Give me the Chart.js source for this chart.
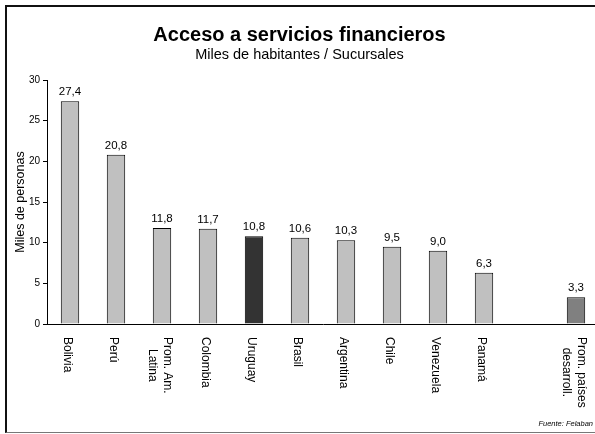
<!DOCTYPE html>
<html>
<head>
<meta charset="utf-8">
<script src="https://cdn.jsdelivr.net/npm/chart.js@4/dist/chart.umd.min.js"></script>
<style>
    html, body { margin: 0; padding: 0; background: #fff; overflow: hidden; }
    #frame {
        position: absolute; left: 5px; top: 5px; width: 700px; height: 425px;
        border-left: 2px solid #111; border-top: 2px solid #111; border-bottom: 1px solid #777;
    }
    #barChart { position: absolute; left: 0; top: 0; }
</style>
</head>
<body>
<div id="frame"></div>
<canvas id="barChart" width="612" height="434"></canvas>
<script>
// Data
const categories = ['Bolivia', 'Perú', ['Prom. Am.', 'Latina'], 'Colombia', 'Uruguay', 'Brasil',
    'Argentina', 'Chile', 'Venezuela', 'Panamá', '', ['Prom. países', 'desarroll.']];
const values = [27.4, 20.8, 11.8, 11.7, 10.8, 10.6, 10.3, 9.5, 9.0, 6.3, null, 3.3];
const yTicks = [0, 5, 10, 15, 20, 25, 30];

const FONT = "'Liberation Sans', Arial, sans-serif";
const highlight = { 'Uruguay': '#333333', 'Prom. países': '#808080' };

function barColor(label) {
    var key = Array.isArray(label) ? label[0] : label;
    return highlight[key] || '#c0c0c0';
}

// Value labels above bars, with comma decimals
const valueLabels = {
    id: 'valueLabels',
    afterDatasetsDraw: function(chart) {
        var ctx = chart.ctx;
        var meta = chart.getDatasetMeta(0);
        ctx.save();
        ctx.font = '11.5px ' + FONT;
        ctx.fillStyle = '#000';
        ctx.textAlign = 'center';
        ctx.textBaseline = 'alphabetic';
        meta.data.forEach(function(bar, i) {
            var v = values[i];
            if (v === null) return;
            ctx.fillText(v.toFixed(1).replace('.', ','), bar.x, bar.y - 6);
        });
        ctx.restore();
    }
};

// Category labels, rotated to read top to bottom
const xLabels = {
    id: 'xLabels',
    afterDraw: function(chart) {
        var ctx = chart.ctx;
        var xs = chart.scales.x;
        var lh = 15;
        ctx.save();
        ctx.font = '12px ' + FONT;
        ctx.fillStyle = '#000';
        ctx.textAlign = 'center';
        ctx.textBaseline = 'alphabetic';
        categories.forEach(function(label, i) {
            if (!label) return;
            var lines = Array.isArray(label) ? label : [label];
            var x = xs.getPixelForValue(i);
            var w = Math.max.apply(null, lines.map(function(l) { return ctx.measureText(l).width; }));
            var n = lines.length;
            lines.forEach(function(line, j) {
                var base = x - 6 + ((n - 1) / 2 - j) * lh;
                ctx.save();
                ctx.translate(base, 337);
                ctx.rotate(Math.PI / 2);
                ctx.fillText(line, w / 2, 0);
                ctx.restore();
            });
        });
        // source note
        ctx.font = 'italic 7.5px ' + FONT;
        ctx.textAlign = 'right';
        ctx.textBaseline = 'middle';
        ctx.fillText('Fuente: Felaban', 593, 424);
        ctx.restore();
    }
};

document.addEventListener('DOMContentLoaded', function() {
    var ctx = document.getElementById('barChart');
    new Chart(ctx, {
        type: 'bar',
        data: {
            labels: categories,
            datasets: [{
                data: values,
                backgroundColor: categories.map(barColor),
                borderColor: '#000',
                borderWidth: 1,
                categoryPercentage: 1,
                barPercentage: 0.4
            }]
        },
        options: {
            responsive: false,
            animation: false,
            devicePixelRatio: 1,
            layout: { padding: { top: 0, left: 0, right: 13, bottom: 110 } },
            plugins: {
                legend: { display: false },
                tooltip: { enabled: false },
                title: {
                    display: true,
                    text: 'Acceso a servicios financieros',
                    color: '#000',
                    font: { family: FONT, size: 20, weight: 'bold', lineHeight: 1 },
                    padding: { top: 25.7, bottom: 0 }
                },
                subtitle: {
                    display: true,
                    text: 'Miles de habitantes / Sucursales',
                    color: '#000',
                    font: { family: FONT, size: 14.5, lineHeight: 1 },
                    padding: { top: 1.6, bottom: 18.2 }
                }
            },
            scales: {
                x: {
                    grid: { display: false },
                    border: { display: true, color: '#000', width: 1 },
                    ticks: { display: false },
                    afterFit: function(scale) { scale.height = 0; }
                },
                y: {
                    min: 0,
                    max: 30,
                    afterBuildTicks: function(scale) {
                        scale.ticks = yTicks.map(function(v) { return { value: v }; });
                    },
                    grid: { drawOnChartArea: false, drawTicks: true, tickLength: 4, color: '#000' },
                    border: { display: true, color: '#000', width: 1 },
                    ticks: { color: '#000', padding: 3, font: { family: FONT, size: 10 } },
                    title: {
                        display: true,
                        text: 'Miles de personas',
                        color: '#000',
                        font: { family: FONT, size: 12.5 },
                        padding: { top: 13, bottom: 0 }
                    },
                    afterFit: function(scale) { scale.width = 47; }
                }
            }
        },
        plugins: [valueLabels, xLabels]
    });
});
</script>
</body>
</html>
